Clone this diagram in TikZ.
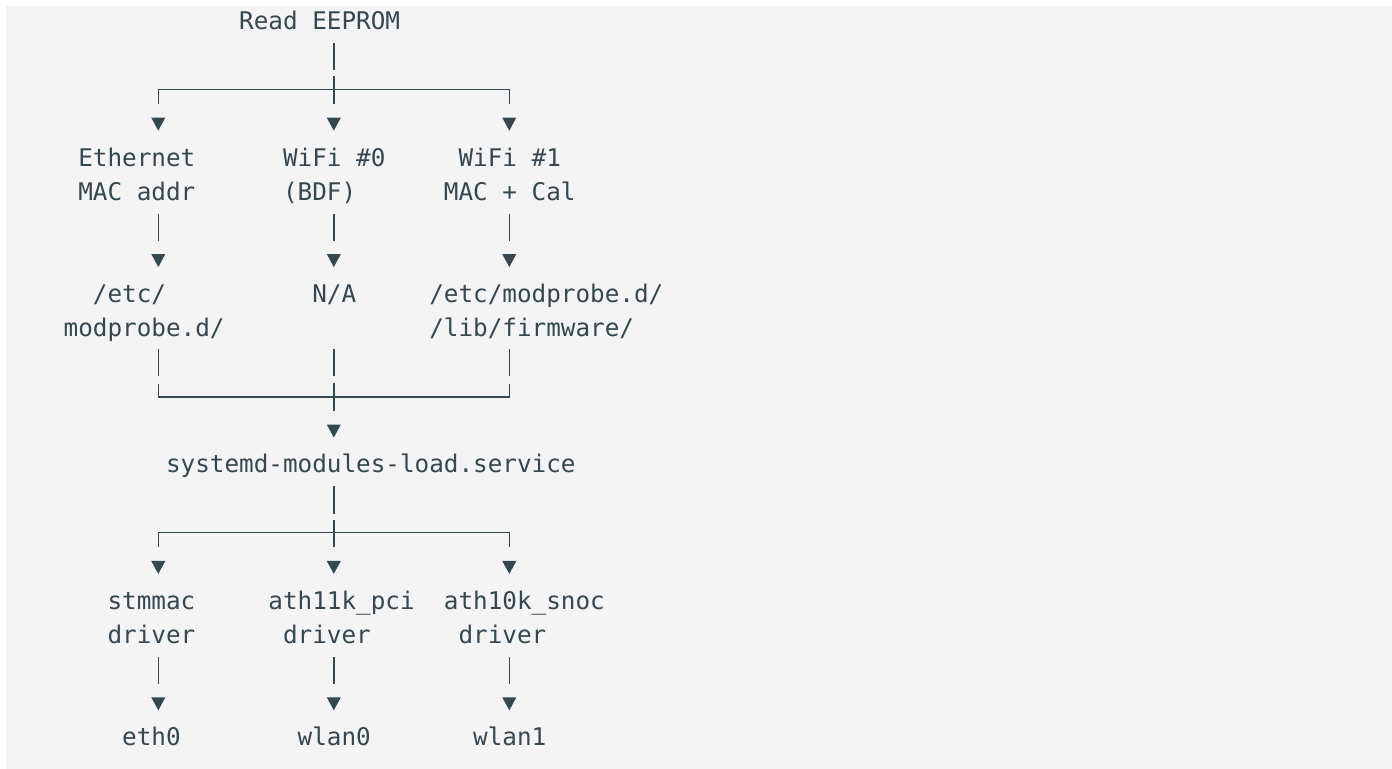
\documentclass[tikz,border=0pt]{standalone}
\usepackage{fontspec}
\newfontfamily\monofont{DejaVu Sans Mono}
\definecolor{InkColor}{RGB}{55,71,79}
\definecolor{PaperColor}{RGB}{244,244,244}
\usetikzlibrary{positioning, calc}
% one column = one character, one row = one text line
\tikzstyle{entry} = [font=\monofont\fontsize{12.15pt}{17.05pt}\selectfont, text=InkColor, inner sep=0pt, text height=12.2pt, text depth=4.8pt, anchor=west]
\tikzstyle{wire} = [InkColor, line width=0.8pt]
\tikzset{head/.pic={\fill[InkColor] (0,-0.31) -- (-0.48,-0.69) -- (0.48,-0.69) -- cycle;}}

\begin{document}
\begin{tikzpicture}[x=7.3125pt, y=-17.05pt]
    \useasboundingbox (-10.824,0.349) rectangle (84.356,22.9);
    \fill[white] (-10.824,0.349) rectangle (84.356,22.9);
    \fill[PaperColor] (-10.414,0.525) rectangle (84.356,22.9);

    % Columns of the three branches
    \coordinate (L) at (0,0);
    \coordinate (M) at (12,0);
    \coordinate (R) at (24,0);

    % Source
    \node[entry] (eeprom) at (5.5,1) {Read EEPROM};

    % What is stored
    \node[entry] (eth) at (-5.5,5) {Ethernet};
    \node[entry] (ethmac) at (-5.5,6) {MAC addr};
    \node[entry] (wifi0) at (8.5,5) {WiFi \#0};
    \node[entry] (bdf) at (8.5,6) {(BDF)};
    \node[entry] (wifi1) at (20.5,5) {WiFi \#1};
    \node[entry] (wifimac) at (19.5,6) {MAC + Cal};

    % Where it ends up
    \node[entry] (etc) at (-4.5,9) {/etc/};
    \node[entry] (modp) at (-6.5,10) {modprobe.d/};
    \node[entry] (na) at (10.5,9) {N/A};
    \node[entry] (wifietc) at (18.5,9) {/etc/modprobe.d/};
    \node[entry] (fw) at (18.5,10) {/lib/firmware/};

    \node[entry] (systemd) at (0.5,14) {systemd-modules-load.service};

    % Drivers
    \node[entry] (stmmac) at (-3.5,18) {stmmac};
    \node[entry] (drv0) at (-3.5,19) {driver};
    \node[entry] (ath11k) at (7.5,18) {ath11k\_pci};
    \node[entry] (drv1) at (8.5,19) {driver};
    \node[entry] (ath10k) at (19.5,18) {ath10k\_snoc};
    \node[entry] (drv2) at (20.5,19) {driver};

    % Interfaces
    \node[entry] (eth0) at (-2.5,22) {eth0};
    \node[entry] (wlan0) at (9.5,22) {wlan0};
    \node[entry] (wlan1) at (21.5,22) {wlan1};

    % Fan out from the EEPROM
    \draw[wire] ($(M |- eeprom.south)+(0,0.1)$) -- ++(0,0.8);
    \draw[wire] ($(L |- eth.north)+(0,-1.1)$) -- ++(0,-0.42) -| ($(R |- wifi1.north)+(0,-1.1)$);
    \draw[wire] ($(M |- wifi0.north)+(0,-1.1)$) -- ++(0,-0.8);
    \foreach \c/\n in {L/eth, M/wifi0, R/wifi1}
        \pic at (\c |- \n.north) {head};

    % Down to the config files
    \foreach \c/\a/\b in {L/ethmac/etc, M/bdf/na, R/wifimac/wifietc} {
        \draw[wire] ($(\c |- \a.south)+(0,0.1)$) -- ++(0,0.8);
        \pic at (\c |- \b.north) {head};
    }

    % Merge into systemd
    \foreach \c in {L, M, R}
        \draw[wire] ($(\c |- systemd.north)+(0,-2.9)$) -- ++(0,0.8);
    \draw[wire] ($(L |- modp.south)+(0,1.1)$) -- ++(0,0.38) -| ($(R |- fw.south)+(0,1.1)$);
    \draw[wire] ($(M |- systemd.north)+(0,-1.1)$) -- ++(0,-0.8);
    \pic at (M |- systemd.north) {head};

    % Fan out to the drivers
    \draw[wire] ($(M |- systemd.south)+(0,0.1)$) -- ++(0,0.8);
    \draw[wire] ($(L |- stmmac.north)+(0,-1.1)$) -- ++(0,-0.42) -| ($(R |- ath10k.north)+(0,-1.1)$);
    \draw[wire] ($(M |- ath11k.north)+(0,-1.1)$) -- ++(0,-0.8);
    \foreach \c/\n in {L/stmmac, M/ath11k, R/ath10k}
        \pic at (\c |- \n.north) {head};

    % Drivers bring up the interfaces
    \foreach \c/\a/\b in {L/drv0/eth0, M/drv1/wlan0, R/drv2/wlan1} {
        \draw[wire] ($(\c |- \a.south)+(0,0.1)$) -- ++(0,0.8);
        \pic at (\c |- \b.north) {head};
    }
\end{tikzpicture}
\end{document}
